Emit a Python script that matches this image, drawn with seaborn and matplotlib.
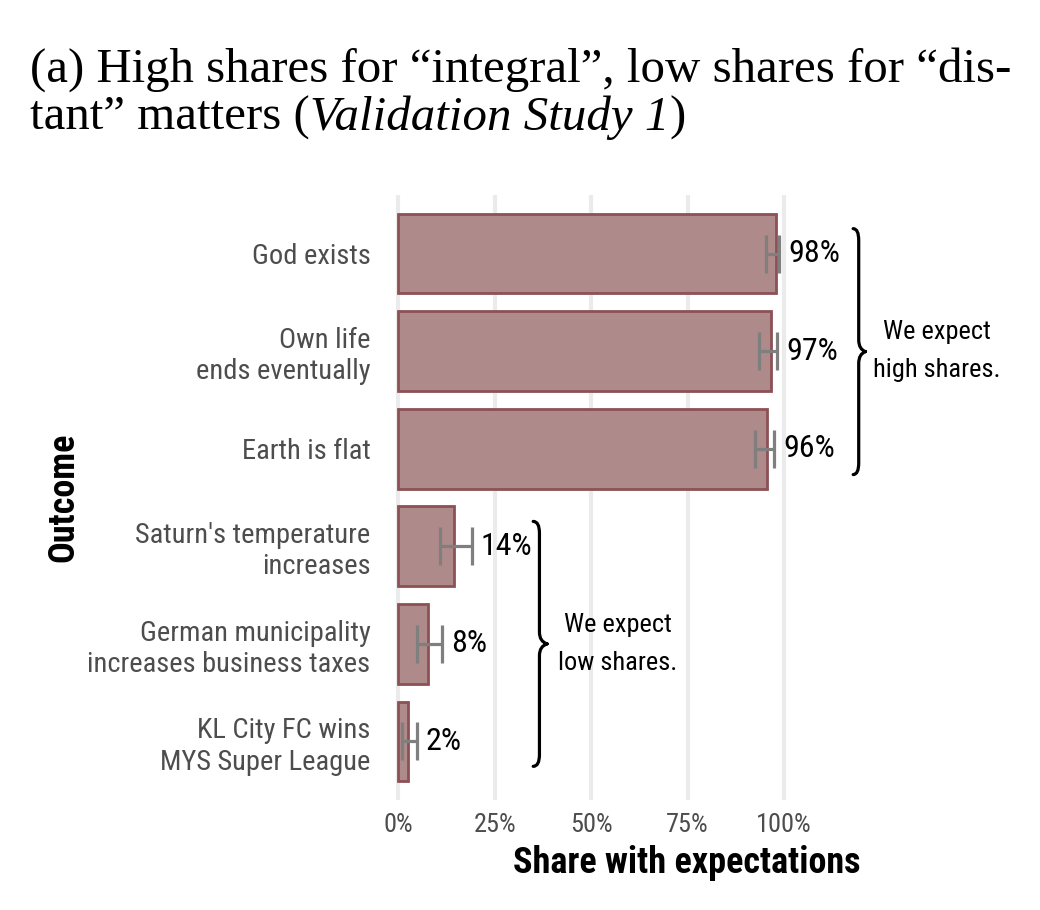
import numpy as np
import pandas as pd
import seaborn as sns
import matplotlib
matplotlib.use("Agg")
import matplotlib.pyplot as plt
from matplotlib import font_manager
from matplotlib.path import Path
from matplotlib.patches import PathPatch

outcomes = [
    "God exists",
    "Own life\nends eventually",
    "Earth is flat",
    "Saturn's temperature\nincreases",
    "German municipality\nincreases business taxes",
    "KL City FC wins\nMYS Super League",
]
share = [97.9, 96.7, 95.7, 14.6, 7.8, 2.6]
ci_low = [95.3, 93.5, 92.5, 10.9, 4.9, 1.0]
ci_high = [98.7, 98.2, 97.4, 19.1, 11.4, 4.9]
share_labels = ["98%", "97%", "96%", "14%", "8%", "2%"]
x_ticks = [0, 25, 50, 75, 100]
x_ticklabels = ["0%", "25%", "50%", "75%", "100%"]

df = pd.DataFrame({"Outcome": outcomes, "Share": share,
                   "lo": ci_low, "hi": ci_high, "label": share_labels})

sns.set_theme(style="white")
installed = {f.name for f in font_manager.fontManager.ttflist}
sans = next((f for f in ["Liberation Sans Narrow", "Roboto Condensed", "Roboto", "Open Sans"]
             if f in installed), "DejaVu Sans")
plt.rcParams["font.family"] = [sans, "DejaVu Sans"]
plt.rcParams["text.color"] = "black"
plt.rcParams["axes.labelcolor"] = "black"

fill = "#AF8A8A"
edge = "#8C5155"
grey = "#7F7F7F"

fig = plt.figure(figsize=(10.4, 9.1), dpi=100)
ax = fig.add_axes([390 / 1040, 1 - 800 / 910, (984 - 390) / 1040, (800 - 195) / 910])

sns.barplot(data=df, x="Share", y="Outcome", orient="h", color=fill,
            edgecolor=edge, linewidth=2, width=0.816, saturation=1, ax=ax)

mid = (df["lo"] + df["hi"]) / 2
half = (df["hi"] - df["lo"]) / 2
ax.errorbar(mid, np.arange(len(df)), xerr=half, fmt="none", ecolor=grey,
            elinewidth=2.3, capsize=14, capthick=2.3, zorder=4)

for i, row in df.iterrows():
    ax.text(row["hi"] + 2.3, i, row["label"], ha="left", va="center",
            fontsize=23, color="black")

ax.set_xlim(-2.1, 151.8)
ax.set_ylim(5.6, -0.6)
ax.set_xticks(x_ticks)
ax.set_xticklabels(x_ticklabels)
ax.grid(axis="x", color="#EBEBEB", linewidth=3)
ax.grid(axis="y", visible=False)
ax.set_axisbelow(True)
for s in ax.spines.values():
    s.set_visible(False)
ax.tick_params(axis="both", length=0, labelcolor="#4D4D4D")
ax.tick_params(axis="x", pad=9, labelsize=19)
ax.tick_params(axis="y", pad=14, labelsize=20.5)
for t in ax.get_yticklabels():
    t.set_linespacing(1.2)

ax.set_xlabel("Share with expectations", fontsize=26, fontweight="bold", labelpad=6)
ax.set_ylabel("Outcome", fontsize=26, fontweight="bold", labelpad=4)


def brace(ax, x, y0, y1, w):
    ym = (y0 + y1) / 2
    xs = x + w * 0.45
    r = 0.12
    verts = [(x, y0), (xs, y0), (xs, y0 + r), (xs, y0 + r),
             (xs, ym - r), (xs, ym - r * 0.2), (x + w, ym), (x + w, ym),
             (xs, ym + r * 0.2), (xs, ym + r), (xs, ym + r),
             (xs, y1 - r), (xs, y1), (x, y1)]
    codes = [Path.MOVETO, Path.CURVE3, Path.CURVE3, Path.LINETO,
             Path.LINETO, Path.CURVE3, Path.CURVE3, Path.MOVETO,
             Path.CURVE3, Path.CURVE3, Path.LINETO,
             Path.LINETO, Path.CURVE3, Path.CURVE3]
    ax.add_patch(PathPatch(Path(verts, codes), fill=False, lw=2.3,
                           edgecolor="black", capstyle="round", clip_on=False))


brace(ax, 117.9, -0.255, 2.265, 3.2)
brace(ax, 35.0, 2.745, 5.255, 3.6)
ax.text(139.6, 1.0, "We expect\nhigh shares.", ha="center", va="center",
        fontsize=19, linespacing=1.75)
ax.text(57.0, 4.0, "We expect\nlow shares.", ha="center", va="center",
        fontsize=19, linespacing=1.75)

# title in two lines, with italic part
serif = ["Liberation Serif", "DejaVu Serif"]
renderer = fig.canvas.get_renderer()
line1 = "(a) High shares for \u201cintegral\u201d, low shares for \u201cdis-"
t1 = fig.text(30 / 1040, 1 - 82 / 910, line1, family=serif, fontsize=30,
              va="baseline", color="black")
w = t1.get_window_extent(renderer).width
fs = 30 * 982 / w
t1.set_fontsize(fs)

x0 = 30
for piece, style in [("tant\u201d matters (", "normal"), ("Validation Study 1", "italic"), (")", "normal")]:
    t = fig.text(x0 / 1040, 1 - 130 / 910, piece, family=serif, fontsize=fs,
                 style=style, va="baseline", color="black")
    x0 = t.get_window_extent(renderer).x1

fig.savefig("out.png", dpi=100)
